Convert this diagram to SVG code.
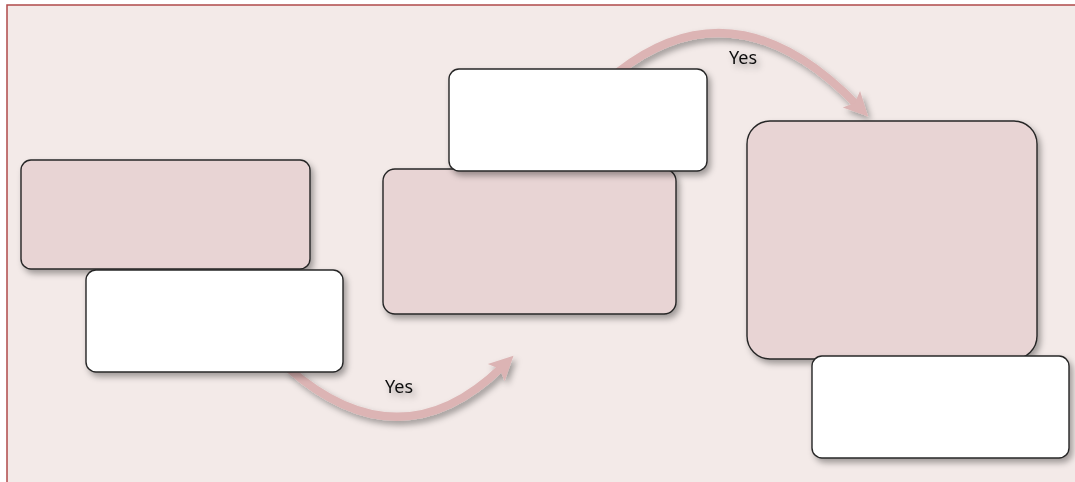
<svg xmlns="http://www.w3.org/2000/svg" width="1075" height="482" viewBox="0 0 1075 482">
  <style>
    .pink { fill: #e8d4d4; stroke: #262626; stroke-width: 1.4; }
    .white { fill: #ffffff; stroke: #262626; stroke-width: 1.4; }
    .conn { fill: none; stroke: #dcb4b4; stroke-width: 8; }
    .lbl { font-family: "Noto Sans", "Open Sans", sans-serif; font-size: 18px; fill: #111111; }
  </style>
  <defs>
    <filter id="sh" x="-20%" y="-20%" width="140%" height="150%">
      <feDropShadow dx="3" dy="4" stdDeviation="3" flood-color="#000" flood-opacity="0.35"/>
    </filter>
    <marker id="ah" markerUnits="userSpaceOnUse" markerWidth="26" markerHeight="26" viewBox="0 0 26 26" refX="8" refY="13" orient="auto">
      <path d="M0,1 L24,13 L0,25 L5,13 Z" fill="#dcb4b4"/>
    </marker>
  </defs>
  <rect x="7" y="5" width="1080" height="490" fill="#f3eae8" stroke="#b04a4a" stroke-width="1.5"/>
  <g id="connectors" filter="url(#sh)">
    <path class="conn" d="M288,368 Q400,466 502,367" marker-end="url(#ah)"/>
    <path class="conn" d="M618,72 Q736,-20 857,105" marker-end="url(#ah)"/>
    <text class="lbl" x="399" y="393" text-anchor="middle">Yes</text>
    <text class="lbl" x="743" y="64" text-anchor="middle">Yes</text>
  </g>
  <g id="node1a" filter="url(#sh)">
    <rect class="pink" x="21" y="160" width="289" height="109" rx="10"/>
  </g>
  <g id="node1b" filter="url(#sh)">
    <rect class="white" x="86" y="270" width="257" height="102" rx="10"/>
  </g>
  <g id="node2a" filter="url(#sh)">
    <rect class="pink" x="383" y="169" width="293" height="145" rx="12"/>
  </g>
  <g id="node2b" filter="url(#sh)">
    <rect class="white" x="449" y="69" width="258" height="102" rx="10"/>
  </g>
  <g id="node3a" filter="url(#sh)">
    <rect class="pink" x="747" y="121" width="290" height="238" rx="23"/>
  </g>
  <g id="node3b" filter="url(#sh)">
    <rect class="white" x="812" y="356" width="257" height="102" rx="10"/>
  </g>
</svg>
